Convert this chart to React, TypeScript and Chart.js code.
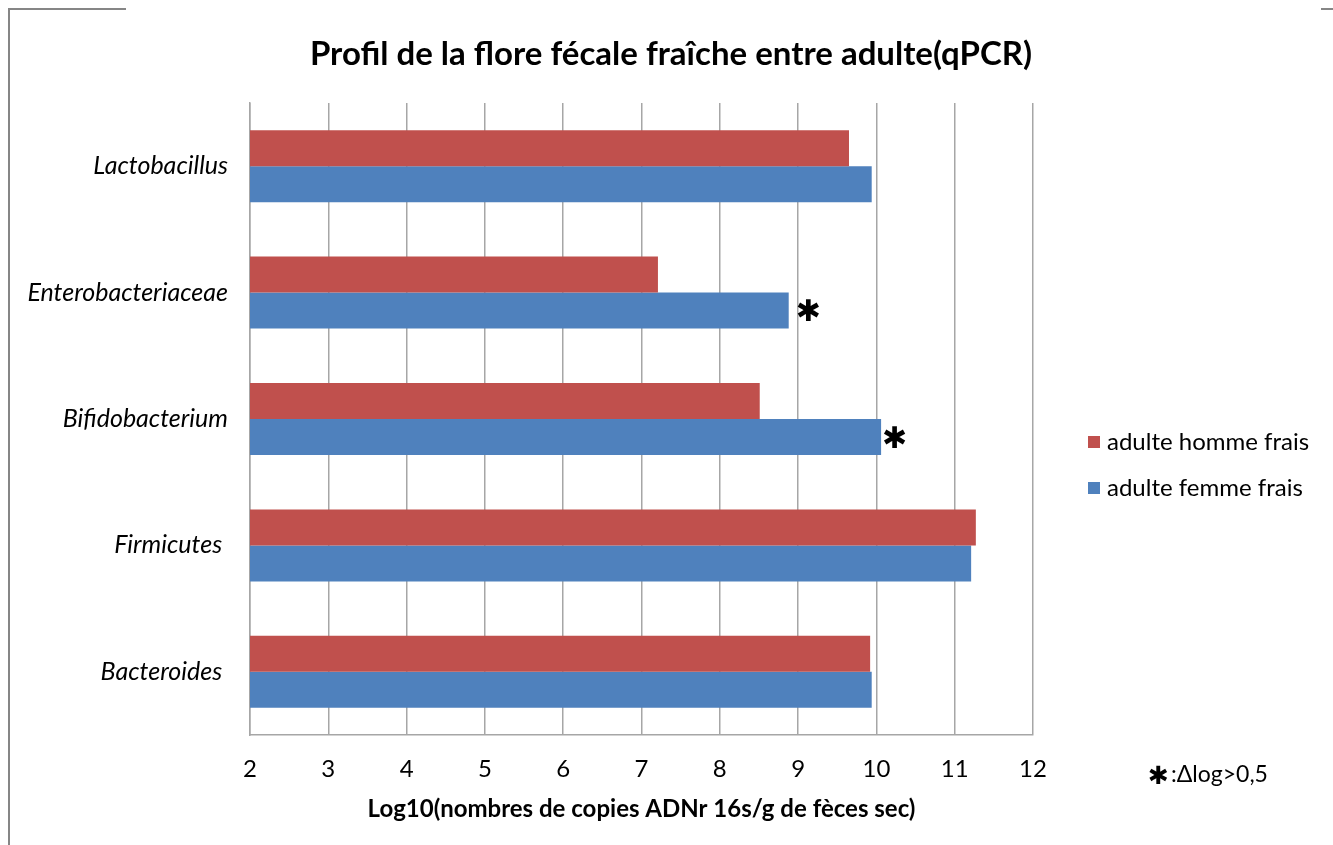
import React, { useEffect, useRef } from "react";
import { Chart, registerables } from "chart.js";

Chart.register(...registerables);

const chartTitle = "Profil de la flore fécale fraîche entre adulte(qPCR)";
const xAxisTitle = "Log10(nombres de copies ADNr 16s/g de fèces sec)";
const categories = ["Lactobacillus", "Enterobacteriaceae", "Bifidobacterium", "Firmicutes ", "Bacteroides "];
const seriesLabels = ["adulte homme frais", "adulte femme frais"];
const hommeValues = [9.65, 7.21, 8.51, 11.27, 9.92];
const femmeValues = [9.94, 8.88, 10.06, 11.21, 9.94];
const significant = [false, true, true, false, false];
const xMin = 2;
const xMax = 12;
const xStep = 1;
const footnote = ":Δlog>0,5";

const RED = "#C0504D";
const BLUE = "#4F81BD";
const FONT = "Lato, 'Open Sans', sans-serif";
const starGap = [0, 7, 1, 0, 0];

const decorPlugin = {
  id: "decor",
  afterDraw(chart: any) {
    const ctx = chart.ctx;
    ctx.save();
    // frame fragments
    ctx.strokeStyle = "#868686";
    ctx.lineWidth = 2;
    ctx.beginPath();
    ctx.moveTo(9, 845);
    ctx.lineTo(9, 9);
    ctx.lineTo(126, 9);
    ctx.moveTo(1321, 9);
    ctx.lineTo(1333, 9);
    ctx.stroke();

    // title
    ctx.fillStyle = "#000";
    ctx.font = `bold 33px ${FONT}`;
    ctx.textAlign = "center";
    ctx.textBaseline = "middle";
    ctx.fillText(chartTitle, 671, 54);

    // significance stars
    const meta = chart.getDatasetMeta(1);
    ctx.font = `bold 30px 'DejaVu Sans', sans-serif`;
    ctx.textAlign = "left";
    meta.data.forEach((bar: any, i: number) => {
      if (significant[i]) {
        ctx.fillText("✱", bar.x + starGap[i], bar.y + 3);
      }
    });

    // legend
    const items = chart.data.datasets;
    ctx.font = `24px ${FONT}`;
    items.forEach((ds: any, i: number) => {
      const y = 442 + i * 46;
      ctx.fillStyle = ds.backgroundColor;
      ctx.fillRect(1088, y - 6, 12, 12);
      ctx.fillStyle = "#000";
      ctx.textAlign = "left";
      ctx.fillText(ds.label, 1107, y);
    });

    // footnote
    ctx.font = `bold 25px 'DejaVu Sans', sans-serif`;
    ctx.fillText("✱", 1148, 777);
    ctx.font = `23px ${FONT}`;
    ctx.fillText(footnote, 1171, 775);
    ctx.restore();
  },
};

export default function App() {
  const ref = useRef<HTMLCanvasElement | null>(null);
  useEffect(() => {
    if (!ref.current) return;
    const chart = new Chart(ref.current, {
      type: "bar",
      data: {
        labels: categories,
        datasets: [
          { label: seriesLabels[0], data: hommeValues, backgroundColor: RED, barPercentage: 1, categoryPercentage: 0.57 },
          { label: seriesLabels[1], data: femmeValues, backgroundColor: BLUE, barPercentage: 1, categoryPercentage: 0.57 },
        ],
      },
      options: {
        indexAxis: "y",
        animation: false,
        responsive: false,
        layout: { padding: { top: 103, left: 0, right: 300, bottom: 0 } },
        plugins: {
          legend: { display: false },
          title: { display: false },
          tooltip: { enabled: false },
        },
        scales: {
          x: {
            min: xMin,
            max: xMax,
            ticks: { stepSize: xStep, color: "#000", font: { family: FONT, size: 24 }, padding: 20 },
            grid: { color: "#A6A6A6", lineWidth: 1.5, drawTicks: false },
            border: { color: "#A6A6A6", width: 1.5 },
            title: {
              display: true,
              text: xAxisTitle,
              color: "#000",
              font: { family: FONT, size: 24, weight: "bold" },
              padding: { top: 10, bottom: 21 },
            },
            afterFit(scale: any) {
              scale.height = 110;
            },
          },
          y: {
            ticks: { color: "#000", font: { family: FONT, size: 25, style: "italic" }, padding: 22 },
            grid: { display: false, drawTicks: false },
            border: { color: "#A6A6A6", width: 1.5 },
            afterFit(scale: any) {
              scale.width = 250;
            },
          },
        },
      },
      plugins: [decorPlugin],
    });
    return () => chart.destroy();
  }, []);
  return (
    <div style={{ position: "absolute", left: 0, top: 0, width: 1333, height: 845, background: "#fff" }}>
      <canvas ref={ref} width={1333} height={845} style={{ display: "block" }} />
    </div>
  );
}
